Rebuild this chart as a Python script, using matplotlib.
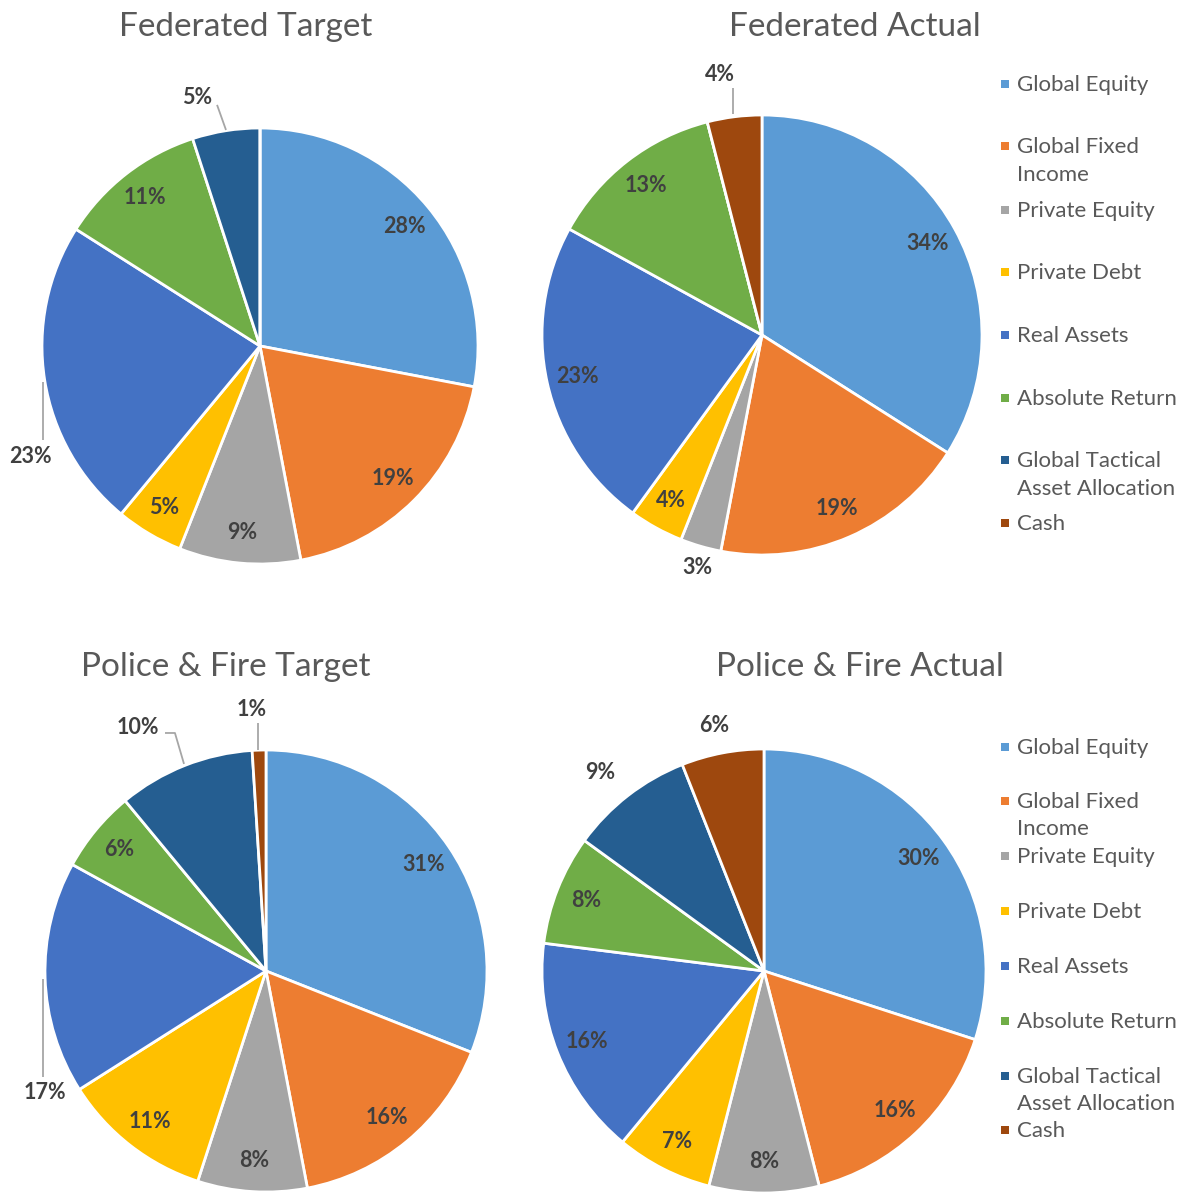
import numpy as np
import matplotlib
matplotlib.use("Agg")
import matplotlib.pyplot as plt
from matplotlib.patches import Rectangle

plt.rcParams['font.family'] = ['Lato', 'DejaVu Sans']

categories = ["Global Equity", "Global Fixed\nIncome", "Private Equity", "Private Debt",
              "Real Assets", "Absolute Return", "Global Tactical\nAsset Allocation", "Cash"]
colors = ["#5B9BD5", "#ED7D31", "#A5A5A5", "#FFC000", "#4472C4", "#70AD47", "#255E91", "#9E480E"]

federated_target = [28, 19, 9, 5, 23, 11, 5, 0]
federated_actual = [34, 19, 3, 4, 23, 13, 0, 4]
pf_target = [31, 16, 8, 11, 17, 6, 10, 1]
pf_actual = [30, 16, 8, 7, 16, 8, 9, 6]

titles = ["Federated Target", "Federated Actual", "Police & Fire Target", "Police & Fire Actual"]

W, H = 1194, 1195
fig = plt.figure(figsize=(W / 100, H / 100), dpi=100)

TXT = "#595959"
LBL = "#404040"
LEAD = "#A6A6A6"

# layout: (center x px, center y px from top, radius px)
layout = [(260, 346, 218), (762, 335, 220), (266, 971, 221), (764, 971, 222)]
title_pos = [(246, 27), (855, 27), (226, 667), (860, 667)]

# label overrides (data units, radius=1): index -> (label xy, leader polyline)
overrides = [
    {4: ((-1.055, -0.505), [(-0.995, -0.165), (-0.995, -0.431)]),
     6: ((-0.289, 1.142), [(-0.197, 1.106), (-0.156, 0.991)])},
    {2: ((-0.295, -1.059), None),
     7: ((-0.191, 1.182), [(-0.132, 1.123), (-0.132, 1.005)])},
    {4: ((-1.0, -0.548), [(-1.009, -0.036), (-1.009, -0.48)]),
     6: ((-0.579, 1.104), [(-0.457, 1.077), (-0.412, 1.077), (-0.371, 0.937)]),
     7: ((-0.063, 1.181), [(-0.036, 1.122), (-0.036, 1.0)])},
    {6: ((-0.739, 0.892), None),
     7: ((-0.225, 1.104), None)},
]

datasets = [federated_target, federated_actual, pf_target, pf_actual]
HALF = 270

for k, (vals, (cx, cy, r)) in enumerate(zip(datasets, layout)):
    ax = fig.add_axes([(cx - HALF) / W, 1 - (cy + HALF) / H, 2 * HALF / W, 2 * HALF / H])
    lim = HALF / r
    wedges, _ = ax.pie(vals, colors=colors, startangle=90, counterclock=False, radius=1,
                       wedgeprops=dict(edgecolor="white", linewidth=2.0))
    ax.set_xlim(-lim, lim)
    ax.set_ylim(-lim, lim)
    ax.set_aspect('equal')
    ax.axis('off')
    total = sum(vals)
    cum = 0
    for i, v in enumerate(vals):
        mid = 90 - 360 * (cum + v / 2) / total
        cum += v
        if v == 0:
            continue
        txt = f"{v}%"
        if i in overrides[k]:
            (lx, ly), leader = overrides[k][i]
            if leader:
                xs, ys = zip(*leader)
                ax.plot(xs, ys, color=LEAD, lw=1.3, solid_capstyle='butt')
        else:
            rho = 0.86
            lx, ly = rho * np.cos(np.radians(mid)), rho * np.sin(np.radians(mid))
        ax.text(lx, ly, txt, ha='center', va='center', fontsize=15.5, fontweight='bold', color=LBL)
    tx, ty = title_pos[k]
    fig.text(tx / W, 1 - ty / H, titles[k], ha='center', va='center', fontsize=24, color=TXT)

# legends
legend_rows = [[84, 146, 210, 272, 335, 398, 460, 523],
               [747, 801, 856, 911, 966, 1021, 1076, 1130]]
spacings = [1.49, 1.44]
for rows, ls in zip(legend_rows, spacings):
    for cat, col, y in zip(categories, colors, rows):
        fig.patches.append(Rectangle(((1001) / W, 1 - (y + 4) / H), 8 / W, 8 / H,
                                     transform=fig.transFigure, facecolor=col, edgecolor='none'))
        fig.text(1017 / W, 1 - (y - 9) / H, cat, ha='left', va='top', fontsize=16,
                 color=TXT, linespacing=ls)

fig.savefig("out.png", dpi=100)
